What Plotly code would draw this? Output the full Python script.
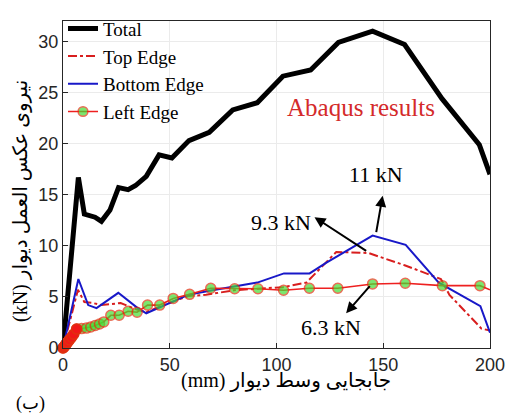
import plotly.graph_objects as go

# displacement (mm) / reaction force (kN)
total_x = [0, 7.2, 10, 13, 15, 18, 22, 26, 30.5, 34, 39, 45, 51, 59, 68.5, 79.5, 91, 103, 116, 129, 145, 160, 177.5, 195, 200]
total_y = [0, 16.7, 13.1, 12.9, 12.8, 12.4, 13.5, 15.7, 15.5, 15.9, 16.8, 18.9, 18.6, 20.3, 21.1, 23.3, 24.0, 26.6, 27.2, 29.9, 31.0, 29.7, 24.4, 19.9, 17.0]

top_x = [0, 7, 10, 14, 18, 27, 34, 39, 47, 59, 67, 80, 91, 103, 114, 128, 143, 160, 177, 181, 196, 200]
top_y = [0, 5.7, 4.5, 4.4, 4.2, 4.4, 3.8, 3.5, 4.2, 5.1, 5.2, 5.65, 5.8, 5.95, 6.4, 9.4, 9.3, 8.1, 6.75, 5.2, 1.9, 1.7]

bot_x = [0, 7.2, 11.8, 15.7, 25.9, 34.4, 39, 47.7, 58.6, 70, 91, 103.5, 115.5, 123, 145, 160.5, 176, 195.5, 200]
bot_y = [0, 6.75, 4.2, 3.9, 5.4, 4.0, 3.4, 4.2, 5.2, 5.65, 6.4, 7.3, 7.3, 8.3, 11.0, 10.1, 6.4, 4.1, 1.5]

left_x = [0, 0.5, 1, 1.5, 2, 3, 4, 5, 6.4, 8.7, 11, 13, 15.1, 17.1, 19.1, 22.4, 26.3, 30.5, 34.7, 39.6,
          45.3, 51.6, 59.3, 69.2, 80.4, 91.3, 103.3, 115.4, 128.7, 145, 160.3, 177.7, 195.3, 200]
left_y = [0, 0.1, 0.25, 0.4, 0.55, 0.8, 1.05, 1.35, 1.85, 1.9, 1.95, 2.05, 2.2, 2.35, 2.55, 3.2, 3.2, 3.6, 3.5, 4.2,
          4.2, 4.85, 5.25, 5.85, 5.8, 5.8, 5.65, 5.85, 5.85, 6.27, 6.34, 6.1, 6.1, 5.7]

serif = "Liberation Serif, Times New Roman, serif"
arab = "Liberation Serif, DejaVu Sans, serif"
sans = "Liberation Sans, Arial, sans-serif"

fig = go.Figure()
fig.add_trace(go.Scatter(x=total_x, y=total_y, name="Total", mode="lines",
                         line=dict(color="black", width=5), cliponaxis=False))
fig.add_trace(go.Scatter(x=top_x, y=top_y, name="Top Edge", mode="lines",
                         line=dict(color="#d81e1e", width=2, dash="dashdot")))
fig.add_trace(go.Scatter(x=bot_x, y=bot_y, name="Bottom Edge", mode="lines",
                         line=dict(color="#1818c8", width=2)))

# markers: none on the final point at the frame
msize = [10] * (len(left_x) - 1) + [0]
fig.add_trace(go.Scatter(x=left_x, y=left_y, name="Left Edge", mode="lines+markers",
                         line=dict(color="#ee2020", width=1.6),
                         marker=dict(size=msize, color="#44dd33", line=dict(color="#e03010", width=1.5)),
                         cliponaxis=False))
# the first points pile up and read as solid red in the original
early = [i for i, v in enumerate(left_x) if v < 7]
fig.add_trace(go.Scatter(x=[left_x[i] for i in early], y=[left_y[i] for i in early], mode="markers",
                         marker=dict(size=10, color="#f01818", line=dict(color="#e03010", width=1.5)),
                         showlegend=False, cliponaxis=False))

arrow = dict(showarrow=True, arrowhead=2, arrowsize=1.1, arrowwidth=2, arrowcolor="black",
             xref="x", yref="y", axref="x", ayref="y", text="")
fig.add_annotation(x=149.7, y=14.9, ax=146.6, ay=11.2, **arrow)
fig.add_annotation(x=117.8, y=12.8, ax=142.7, ay=9.4, **arrow)
fig.add_annotation(x=132.6, y=3.4, ax=144.3, ay=6.2, **arrow)

lbl = dict(showarrow=False, xref="x", yref="y", font=dict(family=serif, size=22, color="black"))
fig.add_annotation(x=146.7, y=17.0, text="11 kN", **lbl)
fig.add_annotation(x=101.9, y=12.3, text="9.3 kN", **lbl)
fig.add_annotation(x=125.7, y=2.0, text="6.3 kN", **lbl)
fig.add_annotation(x=139.7, y=23.5, text="Abaqus results", showarrow=False, xref="x", yref="y",
                   font=dict(family=serif, size=25, color="#d42a2a"))

# svg text runs left-to-right, so the unit goes first to land on the left like the original
paper = dict(showarrow=False, xref="paper", yref="paper", xanchor="center", yanchor="middle")
fig.add_annotation(x=-0.077, y=-0.17, text="(ب)", font=dict(family=arab, size=18, color="black"), **paper)
fig.add_annotation(x=0.522, y=-0.1, text="(mm) جابجایی وسط دیوار",
                   font=dict(family=arab, size=20, color="black"), **paper)
fig.add_annotation(x=-0.098, y=0.45, text="(kN) نیروی عکس العمل دیوار", textangle=-90,
                   font=dict(family=arab, size=20, color="black"), **paper)

axis_common = dict(showline=True, linecolor="#262626", linewidth=1, mirror=True,
                   ticks="inside", ticklen=5, tickcolor="#262626",
                   showgrid=True, gridcolor="#ebebeb", zeroline=False, automargin=False,
                   tickfont=dict(family=sans, size=18, color="#262626"))

fig.update_xaxes(range=[0, 200], tickvals=[0, 50, 100, 150, 200], **axis_common)
fig.update_yaxes(range=[0, 32], tickvals=[0, 5, 10, 15, 20, 25, 30], **axis_common)

fig.update_layout(
    width=506, height=418,
    margin=dict(l=63, r=16, t=10, b=70),
    plot_bgcolor="white", paper_bgcolor="white",
    legend=dict(x=0.0, y=1.035, xanchor="left", yanchor="top", bgcolor="rgba(255,255,255,0)",
                font=dict(family=serif, size=19, color="black"), itemwidth=30, tracegroupgap=0),
)

# the page's default body margin would push the figure 8px off
fig.write_html("out.html", config={"displayModeBar": False},
               post_script="document.body.style.margin='0';")
